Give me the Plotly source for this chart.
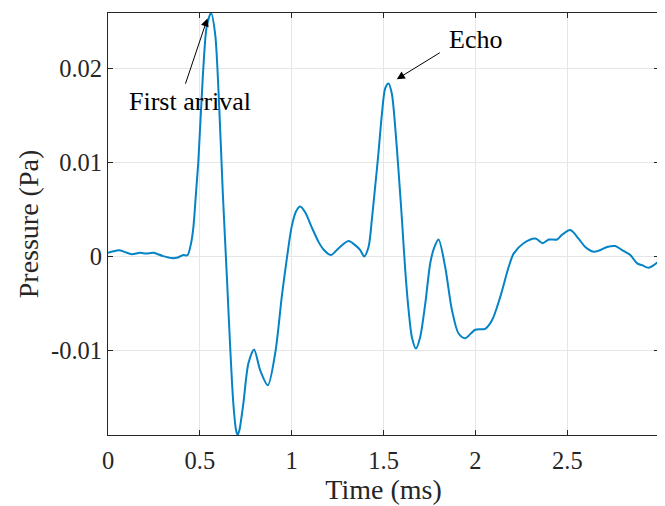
import plotly.graph_objects as go

# Time (ms) and pressure (Pa)
time_ms = [0.000, 0.030, 0.060, 0.093, 0.129, 0.174, 0.210, 0.247, 0.300, 0.346,
           0.374, 0.410, 0.432, 0.452, 0.465, 0.478, 0.492, 0.516, 0.537, 0.561,
           0.583, 0.606, 0.625, 0.647, 0.664, 0.682, 0.697, 0.706, 0.715, 0.737, 0.764, 0.795,
           0.828, 0.870, 0.910, 0.947, 0.975, 1.000, 1.024, 1.046, 1.073, 1.109,
           1.146, 1.173, 1.213, 1.254, 1.309, 1.345, 1.373, 1.394, 1.418, 1.436,
           1.454, 1.472, 1.491, 1.509, 1.527, 1.545, 1.563, 1.581, 1.600, 1.618,
           1.636, 1.654, 1.676, 1.699, 1.727, 1.754, 1.775, 1.799, 1.835, 1.872,
           1.908, 1.944, 1.999, 2.053, 2.090, 2.135, 2.181, 2.208, 2.262, 2.326,
           2.366, 2.399, 2.444, 2.471, 2.516, 2.561, 2.598, 2.643, 2.670, 2.716,
           2.761, 2.798, 2.843, 2.880, 2.907, 2.943, 2.999]
pressure_pa = [0.00038, 0.00055, 0.00067, 0.00046, 0.00024, 0.00038, 0.00032, 0.00038, 0.00003, -0.00018,
               -0.00015, 0.00014, 0.00012, 0.0014, 0.00315, 0.0065, 0.0102, 0.0191, 0.0244, 0.0259,
               0.0237, 0.0156, 0.0067, -0.00217, -0.00926, -0.0156, -0.0185, -0.0190, -0.0185, -0.0156, -0.0114, -0.0099,
               -0.0121, -0.0137, -0.0103, -0.0041, 0.0000, 0.0032, 0.0048, 0.0053, 0.0047, 0.0031,
               0.00155, 0.00074, 0.00014, 0.00085, 0.00163, 0.0012, 0.00067, 0.0000, 0.0010, 0.0039,
               0.0074, 0.0110, 0.0152, 0.0179, 0.0184, 0.0173, 0.0138, 0.0092, 0.0039, -0.0015,
               -0.0057, -0.0086, -0.0098, -0.0086, -0.0050, -0.0007, 0.0009, 0.0018, -0.0011, -0.0057,
               -0.0082, -0.0087, -0.0078, -0.0077, -0.0068, -0.0043, -0.0011, 0.0003, 0.0014, 0.0019,
               0.0014, 0.0018, 0.0018, 0.0023, 0.0028, 0.0019, 0.0010, 0.0005, 0.0006, 0.0010,
               0.0011, 0.00067, 0.00014, -0.00074, -0.00093, -0.0012, -0.0005]

x_ticks = [0, 0.5, 1, 1.5, 2, 2.5]
x_tick_labels = ["0", "0.5", "1", "1.5", "2", "2.5"]
y_ticks = [-0.01, 0, 0.01, 0.02]
y_tick_labels = ["-0.01", "0", "0.01", "0.02"]

FONT = "Liberation Serif, Times New Roman, serif"
AX = "#262626"

fig = go.Figure()
fig.add_trace(go.Scatter(
    x=time_ms, y=pressure_pa, mode="lines",
    line=dict(color="#0583C7", width=2, shape="spline", smoothing=0.8),
    showlegend=False, hoverinfo="skip"))

fig.add_annotation(x=0.541, y=0.02532, ax=0.419, ay=0.01822,
                   xref="x", yref="y", axref="x", ayref="y",
                   showarrow=True, arrowhead=2, arrowsize=1.6, arrowwidth=1,
                   arrowcolor="black", text="")
fig.add_annotation(x=1.572, y=0.01886, ax=1.814, ay=0.02177,
                   xref="x", yref="y", axref="x", ayref="y",
                   showarrow=True, arrowhead=2, arrowsize=1.6, arrowwidth=1,
                   arrowcolor="black", text="")
fig.add_annotation(x=0.102, y=0.01652, xref="x", yref="y", text="First arrival",
                   showarrow=False, xanchor="left", yanchor="middle",
                   font=dict(family=FONT, size=26, color="black"))
fig.add_annotation(x=1.845, y=0.02305, xref="x", yref="y", text="Echo",
                   showarrow=False, xanchor="left", yanchor="middle",
                   font=dict(family=FONT, size=26, color="black"))

# the page body adds an 8 px offset, so the figure is 8 px smaller
fig.update_layout(
    width=657, height=498,
    margin=dict(l=100, r=6, t=5, b=71),
    paper_bgcolor="white", plot_bgcolor="white",
    font=dict(family=FONT, color=AX),
)
fig.update_xaxes(
    range=[0, 2.999], tickvals=x_ticks, ticktext=x_tick_labels,
    showline=True, linecolor=AX, linewidth=1, mirror="ticks",
    ticks="inside", ticklen=5, tickcolor=AX, tickwidth=1,
    showgrid=True, gridcolor="#e6e6e6", gridwidth=1, zeroline=False,
    tickfont=dict(family=FONT, size=24.5, color=AX), ticklabelstandoff=4,
    automargin=False,
    title=dict(text="Time (ms)", font=dict(family=FONT, size=28, color=AX), standoff=5),
)
fig.update_yaxes(
    range=[-0.0190, 0.0259], tickvals=y_ticks, ticktext=y_tick_labels,
    showline=True, linecolor=AX, linewidth=1, mirror="ticks",
    ticks="inside", ticklen=5, tickcolor=AX, tickwidth=1,
    showgrid=True, gridcolor="#e6e6e6", gridwidth=1, zeroline=False,
    tickfont=dict(family=FONT, size=24.5, color=AX),
    automargin=False,
    title=dict(text="Pressure (Pa)", font=dict(family=FONT, size=28, color=AX), standoff=4),
)

fig.write_html("out.html")
